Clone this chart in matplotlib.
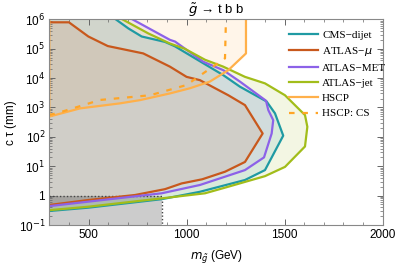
import matplotlib
matplotlib.use("Agg")
import matplotlib.pyplot as plt
import numpy as np
from matplotlib.ticker import FixedLocator, LogLocator, NullFormatter

# --- data (mass in GeV, c tau in mm) ---
cms_m = [630, 703, 771, 890, 941, 1043, 1187, 1272, 1408, 1451, 1493,
         1400, 1298, 1068, 875, 500, 300]
cms_ct = [1.1e6, 4.9e5, 2.6e5, 1.7e5, 1.2e5, 4.7e4, 1.26e4, 5.1e3, 1.6e3, 6.3e2, 1.1e2,
          7.4, 3.4, 1.35, 0.76, 0.39, 0.30]

mu_m = [300, 400, 499, 598, 779, 915, 1000, 1068, 1213, 1298, 1388,
        1298, 1196, 1080, 975, 890, 737, 499, 300]
mu_ct = [7.9e5, 7.9e5, 2.6e5, 1.23e5, 6.9e4, 2.45e4, 1.1e4, 8.5e3, 2.6e3, 1.2e3, 1.3e2,
         14, 6.5, 3.6, 2.6, 1.66, 1.05, 0.71, 0.48]

met_m = [712, 915, 941, 1085, 1187, 1272, 1405, 1417, 1442, 1434,
         1395, 1298, 1068, 873, 300]
met_ct = [1.1e6, 2.0e5, 1.75e5, 3.6e4, 1.86e4, 7.6e3, 1.7e3, 8.1e2, 3.7e2, 1.3e2,
          20, 7.4, 2.3, 1.2, 0.44]

jet_m = [661, 805, 915, 990, 1094, 1187, 1298, 1400, 1502, 1604, 1616,
         1604, 1502, 1400, 1200, 1094, 875, 500, 300]
jet_ct = [1.1e6, 3.3e5, 1.5e5, 1.0e5, 4.2e4, 2.45e4, 1.1e4, 6.6e3, 2.6e3, 5.5e2, 2.2e2,
          47, 9.5, 4.6, 1.9, 1.2, 0.81, 0.42, 0.32]

hscp_m = [300, 300, 457, 661, 763, 915, 1017, 1119, 1213, 1303, 1303]
hscp_ct = [1.1e6, 4.9e2, 9.3e2, 1.38e3, 1.78e3, 3.0e3, 4.5e3, 7.6e3, 1.86e4, 6.9e4, 1.1e6]

cs_m = [300, 337, 559, 814, 1000, 1085, 1196, 1201]
cs_ct = [5.6e2, 6.3e2, 1.8e3, 2.6e3, 5.8e3, 1.45e4, 4.7e4, 1.1e6]

box_m = [300, 875]
box_ct = [0.1, 1.0]

col = {
    'CMS': '#1f9aa3',
    'MU': '#c8581c',
    'MET': '#8c62e8',
    'JET': '#a2bd1a',
    'HSCP': '#ffb04a',
    'CS': '#ffa526',
}

plt.rcParams['font.family'] = ['Liberation Sans', 'DejaVu Sans']
plt.rcParams['mathtext.fontset'] = 'dejavusans'

fig = plt.figure(figsize=(3.99, 2.68), dpi=100)
ax = fig.add_axes([0.1236, 0.1604, 0.8354, 0.7676])

top = 1.1e6
# zones remplies
ax.fill(hscp_m, hscp_ct, color=col['HSCP'], alpha=0.12, lw=0)
ax.fill(jet_m + [300], jet_ct + [top], color=col['JET'], alpha=0.12, lw=0)
ax.fill(cms_m + [300], cms_ct + [top], color=col['CMS'], alpha=0.12, lw=0)
ax.fill(met_m + [300], met_ct + [top], color=col['MET'], alpha=0.10, lw=0)
ax.fill(mu_m, mu_ct, color=col['MU'], alpha=0.10, lw=0)
ax.fill([box_m[0], box_m[1], box_m[1], box_m[0]],
        [box_ct[0], box_ct[0], box_ct[1], box_ct[1]], color='k', alpha=0.2, lw=0)
ax.plot([box_m[0], box_m[1], box_m[1]], [box_ct[1], box_ct[1], box_ct[0]],
        color='#444444', lw=1, ls=(0, (1, 1.5)))

# courbes
ax.plot(cms_m, cms_ct, color=col['CMS'], lw=1.6, label='CMS\u2212dijet')
ax.plot(mu_m, mu_ct, color=col['MU'], lw=1.6, label='ATLAS\u2212$\\mu$')
ax.plot(met_m, met_ct, color=col['MET'], lw=1.6, label='ATLAS\u2212MET')
ax.plot(jet_m, jet_ct, color=col['JET'], lw=1.6, label='ATLAS\u2212jet')
ax.plot(hscp_m, hscp_ct, color=col['HSCP'], lw=1.6, label='HSCP')
ax.plot(cs_m, cs_ct, color=col['CS'], lw=1.6, ls=(0, (2.5, 3.5)), label='HSCP: CS')

ax.set_yscale('log')
ax.set_xlim(300, 2000)
ax.set_ylim(0.1, 1e6)

ax.xaxis.set_major_locator(FixedLocator([500, 1000, 1500, 2000]))
ax.xaxis.set_minor_locator(FixedLocator(list(range(300, 2001, 100))))
ax.yaxis.set_major_locator(FixedLocator([10.0 ** k for k in range(-1, 7)]))
ax.yaxis.set_minor_locator(LogLocator(base=10, subs=np.arange(2, 10)))
ax.yaxis.set_minor_formatter(NullFormatter())
ylabels = ['10$^{-1}$', '1', '10$^{1}$', '10$^{2}$', '10$^{3}$', '10$^{4}$', '10$^{5}$', '10$^{6}$']
ax.set_yticklabels(ylabels)
ax.set_xticklabels(['500', '1000', '1500', '2000'])

ax.tick_params(which='both', direction='in', top=True, right=True,
               labelsize=8.5, color='#666666', pad=3)
ax.tick_params(which='major', length=4, width=0.7)
ax.tick_params(which='minor', length=2, width=0.5)
for s in ax.spines.values():
    s.set_color('#888888')
    s.set_linewidth(0.8)

ax.set_title('$\\tilde{g}$ \u2192 t b b', fontsize=9.5, pad=3)
ax.set_xlabel('$m_{\\tilde{g}}$ (GeV)', fontsize=8.5, labelpad=5)
ax.set_ylabel('c \u03c4 (mm)', fontsize=8.5, labelpad=1)

leg = ax.legend(loc='upper left', bbox_to_anchor=(0.705, 0.97), frameon=False,
                prop={'family': 'Liberation Serif', 'size': 8},
                handlelength=2.6, handletextpad=0.4, labelspacing=0.48,
                borderaxespad=0)

fig.savefig('out.png', dpi=100)
